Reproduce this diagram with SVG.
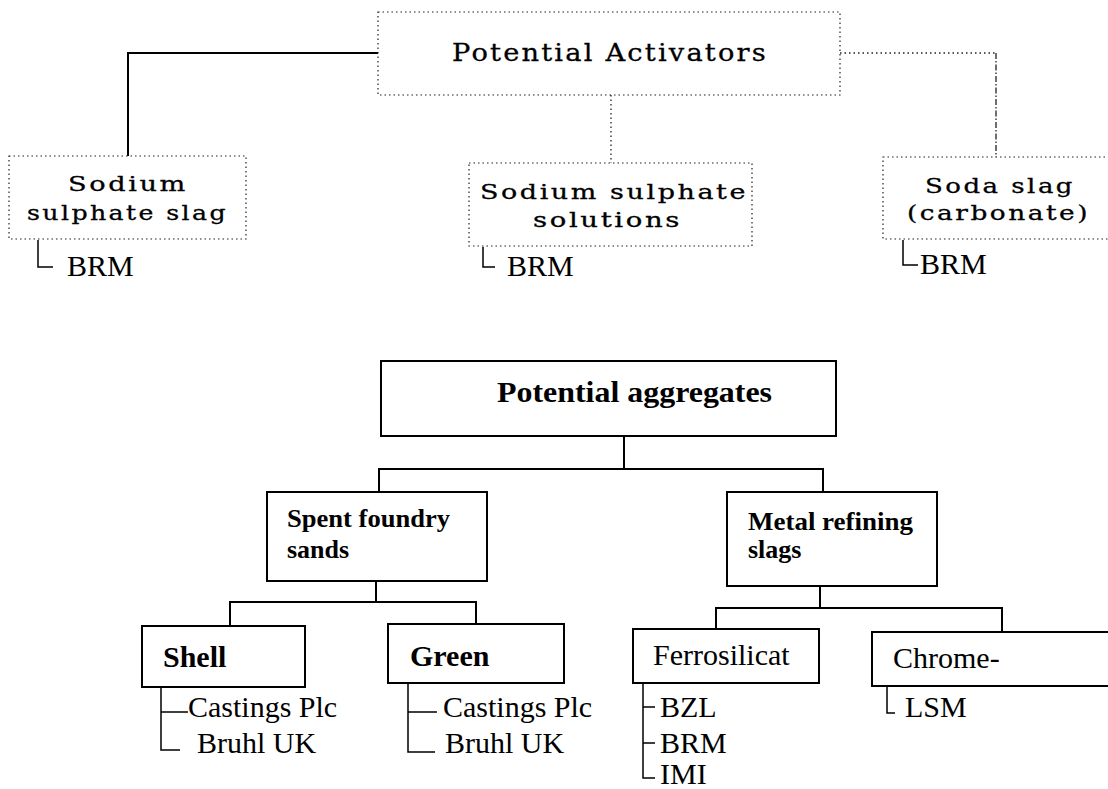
<svg xmlns="http://www.w3.org/2000/svg" width="1108" height="789" viewBox="0 0 1108 789">
<style>
.dot{fill:none;stroke:#222;stroke-width:1.2;stroke-dasharray:1.5 3}
.box{fill:none;stroke:#000;stroke-width:2}
.ln{fill:none;stroke:#000;stroke-width:2}
.thin{fill:none;stroke:#000;stroke-width:1.5}
.dotl{fill:none;stroke:#222;stroke-width:1.3;stroke-dasharray:1.5 3}
.dashdot{fill:none;stroke:#222;stroke-width:1.3;stroke-dasharray:6 2 1.5 2}
.ts{font-family:"DejaVu Serif",serif;font-size:21px;letter-spacing:2px;fill:#000;stroke:#000;stroke-width:0.3}
.tpa{font-family:"DejaVu Serif",serif;font-size:25px;letter-spacing:2px;fill:#000;stroke:#000;stroke-width:0.3}
.tb{font-family:"Liberation Serif","Times New Roman",serif;font-weight:bold;fill:#000}
.tr{font-family:"Liberation Serif","Times New Roman",serif;font-size:30px;fill:#000}
</style>
<rect width="1108" height="789" fill="#fff"/>
<g id="connectors">
<path class="ln" d="M378 53 H128 V156"/>
<path class="dotl" d="M611 95 V163"/>
<path class="dotl" d="M840 53 H996"/>
<path class="dashdot" d="M996 53 V157"/>
<path class="thin" d="M38 240 V267 H53"/>
<path class="thin" d="M483 247 V267 H495"/>
<path class="thin" d="M903 240 V265 H918"/>
<path class="ln" d="M624 436 V469"/>
<path class="ln" d="M379 492 V469 H823 V492"/>
<path class="ln" d="M376 581 V602"/>
<path class="ln" d="M230 625 V602 H476 V624"/>
<path class="ln" d="M820 586 V608"/>
<path class="ln" d="M716 629 V608 H1002 V632"/>
<path class="thin" d="M161 687 V750 H180 M161 712 H188"/>
<path class="thin" d="M408 683 V752 H435 M408 712 H437"/>
<path class="thin" d="M643 683 V778 H655 M643 707 H655 M643 743 H655"/>
<path class="thin" d="M887 686 V713 H895"/>
</g>
<g id="potential-activators">
<rect class="dot" x="378" y="12" width="462" height="83"/>
<text class="tpa" x="452" y="61" textLength="316" lengthAdjust="spacingAndGlyphs">Potential Activators</text>
</g>
<g id="sodium-sulphate-slag">
<rect class="dot" x="9" y="156" width="237" height="83"/>
<text class="ts" x="68" y="191" textLength="120" lengthAdjust="spacingAndGlyphs">Sodium</text>
<text class="ts" x="27" y="220" textLength="201" lengthAdjust="spacingAndGlyphs">sulphate slag</text>
<text class="tr" x="67" y="276">BRM</text>
</g>
<g id="sodium-sulphate-solutions">
<rect class="dot" x="469" y="163" width="283" height="83"/>
<text class="ts" x="480" y="199" textLength="268" lengthAdjust="spacingAndGlyphs">Sodium sulphate</text>
<text class="ts" x="533" y="227" textLength="149" lengthAdjust="spacingAndGlyphs">solutions</text>
<text class="tr" x="507" y="276">BRM</text>
</g>
<g id="soda-slag">
<rect class="dot" x="883" y="157" width="240" height="82"/>
<text class="ts" x="925" y="193" textLength="150" lengthAdjust="spacingAndGlyphs">Soda slag</text>
<text class="ts" x="907" y="220" textLength="183" lengthAdjust="spacingAndGlyphs">(carbonate)</text>
<text class="tr" x="920" y="274">BRM</text>
</g>
<g id="potential-aggregates">
<rect class="box" x="381" y="361" width="455" height="75"/>
<text class="tb" x="497" y="402" font-size="29" textLength="275" lengthAdjust="spacingAndGlyphs">Potential aggregates</text>
</g>
<g id="spent-foundry-sands">
<rect class="box" x="267" y="492" width="220" height="89"/>
<text class="tb" x="287" y="527" font-size="26" textLength="163" lengthAdjust="spacingAndGlyphs">Spent foundry</text>
<text class="tb" x="287" y="558" font-size="26">sands</text>
</g>
<g id="metal-refining-slags">
<rect class="box" x="727" y="492" width="210" height="94"/>
<text class="tb" x="748" y="530" font-size="26" textLength="165" lengthAdjust="spacingAndGlyphs">Metal refining</text>
<text class="tb" x="748" y="558" font-size="26">slags</text>
</g>
<g id="shell">
<rect class="box" x="142" y="626" width="163" height="61"/>
<text class="tb" x="163" y="667" font-size="30">Shell</text>
<text class="tr" x="188" y="717" font-size="31">Castings Plc</text>
<text class="tr" x="197" y="753" font-size="31">Bruhl UK</text>
</g>
<g id="green">
<rect class="box" x="388" y="624" width="176" height="59"/>
<text class="tb" x="410" y="666" font-size="30">Green</text>
<text class="tr" x="443" y="717" font-size="31">Castings Plc</text>
<text class="tr" x="445" y="753" font-size="31">Bruhl UK</text>
</g>
<g id="ferrosilicat">
<rect class="box" x="633" y="629" width="186" height="54"/>
<text class="tr" x="653" y="665" font-size="29">Ferrosilicat</text>
<text class="tr" x="660" y="717">BZL</text>
<text class="tr" x="660" y="753">BRM</text>
<text class="tr" x="660" y="784">IMI</text>
</g>
<g id="chrome">
<rect class="box" x="872" y="632" width="250" height="54"/>
<text class="tr" x="893" y="668" font-size="29">Chrome-</text>
<text class="tr" x="905" y="717">LSM</text>
</g>
</svg>
